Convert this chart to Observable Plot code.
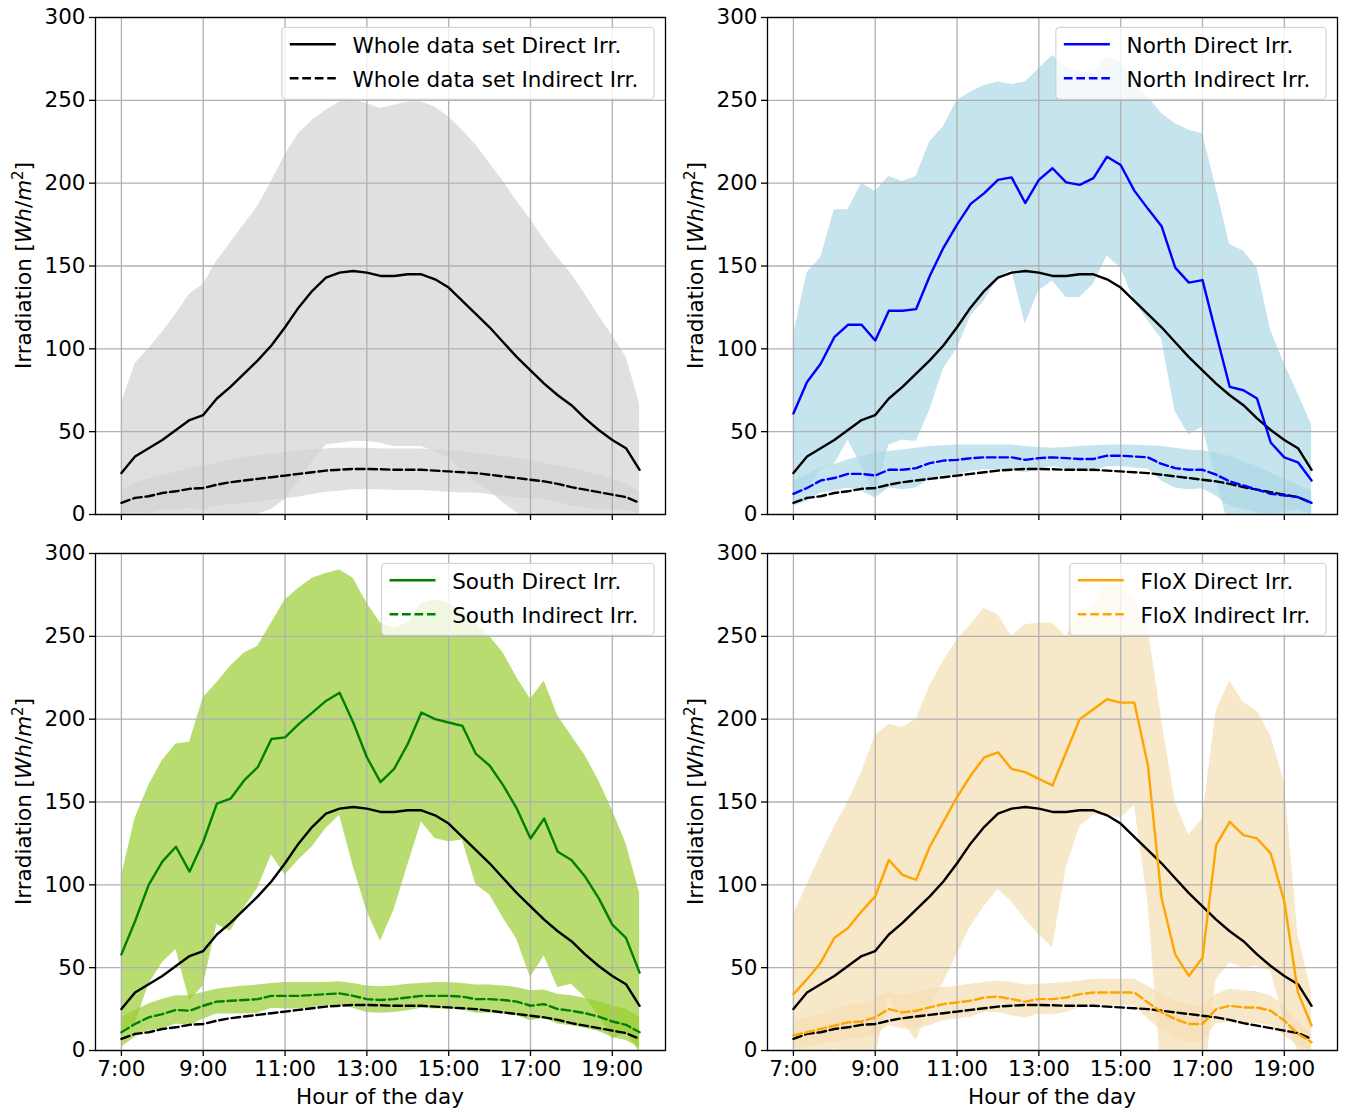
<!DOCTYPE html>
<html><head><meta charset="utf-8">
<script src="https://cdn.jsdelivr.net/npm/d3@7"></script>
<script src="https://cdn.jsdelivr.net/npm/@observablehq/plot@0.6"></script>
<style>
html,body{margin:0;padding:0;background:#fff;}
#chart{position:relative;width:1347px;height:1113px;font-family:"DejaVu Sans",sans-serif;}
#chart svg{position:absolute;overflow:visible;}
</style></head><body><div id="chart"></div>
<script>
const times = ["7:00","7:20","7:40","8:00","8:20","8:40","9:00","9:20","9:40","10:00","10:20","10:40","11:00","11:20","11:40","12:00","12:20","12:40","13:00","13:20","13:40","14:00","14:20","14:40","15:00","15:20","15:40","16:00","16:20","16:40","17:00","17:20","17:40","18:00","18:20","18:40","19:00","19:20","19:40"];
const xTicks = [7, 9, 11, 13, 15, 17, 19];
const yTicks = [0, 50, 100, 150, 200, 250, 300];

// Whole data set
const wholeDirect   = [25,35,40,45,51,57,60,70,77,85,93,102,113,125,135,143,146,147,146,144,144,145,145,142,137,129,121,113,104,95,87,79,72,66,58,51,45,40,27];
const wholeDirectHi = [67,91,100,110,121,133,139,153,164,175,186,201,217,230,238,244,249,250,248,245,247,249,249,246,240,232,223,212,201,189,178,166,155,145,133,120,108,95,67];
const wholeDirectLo = [-17,-21,-20,-20,-19,-19,-19,-13,-10,-5,0,3,9,20,32,42,43,44,44,43,41,41,41,38,34,26,19,14,7,1,-4,-8,-11,-13,-17,-18,-18,-15,-13];
const wholeIndirect   = [7,10,11,13,14,15.5,16,18,19.5,20.5,21.5,22.5,23.5,24.5,25.5,26.5,27,27.5,27.5,27.3,27,27,27,26.5,26,25.5,25,24,23,22,21,20,18.5,16.5,15,13.5,12,10.5,7];
const wholeIndirectHi = [14.5,19,21.5,23.5,25.5,27.5,29.5,31,33,34.5,35.5,36.5,37.5,38.5,39,39.5,40,40,40,39.5,39.5,39.5,39.5,39,38.5,38,37,36,35,34,32.5,31,29.5,28,26,24,21,18.5,13.5];
const wholeIndirectLo = [-0.5,1,0.5,2.5,2.5,3.5,2.5,5,6,6.5,7.5,8.5,9.5,10.5,12,13.5,14,15,15,15,14.5,14.5,14.5,14,13.5,13,13,12,11,10,9.5,9,7.5,5,4,3,3,2.5,0.5];

// North
const northDirect   = [61,80,91,107,114.5,114.5,105,123,123,124,144,161,175,187.5,194,202,203.5,188,202,209,200.5,199,203,216,211,195.5,184.5,174,149,140,141.5,109,77,75,70,43.5,34.5,31.5,20.5];
const northDirectHi = [108,146,155,184,184,200,195,204,201,204,225,234,250,255,259,261,259.5,261,269,277,270,267,267,276,273,262,252,242,236,232,230,197,163,159,149,111,91,73,54];
const northDirectLo = [14,14,27,30,45,29,11,42,45,44,63,88,100,120,129,143,147.5,115,135,141,131,131,139,156,149,129,117,106,62,48,53,21,-9,-9,-9,-24,-22,-10,-13];
const northIndirect   = [12.5,16,20.5,22,24.5,24.5,23.5,27,27,28,31,32.5,33,34,34.5,34.5,34.5,33,34,34.5,34,33.5,33.5,35.5,35.5,35,34.5,30.5,28,27,27,24,20,17.5,15,12.5,11.5,10.5,7];
const northIndirectHi = [20,24,28,30,33,35,37,38,39,40,41,41.5,42,42,42,42,42,41,40.5,40,40.5,41,41.5,42,42,42,41.5,41,40,39,38.5,37,35,32,29,25,21.5,18,14.5];
const northIndirectLo = [5,8,13,14,16,14,10,16,15,16,21,23.5,24,26,27,27,27,25,27.5,29,27.5,26,25.5,29,29,28,27.5,20,16,15,15.5,11,5,3,1,0,1.5,3,-0.5];

// South
const southDirect   = [58,78,100,114,123,108,126,149,152,163,171,188,189,197,204,211,216,198,177,162,170,185,204,200,198,196,179,172,160,146,128,140,120,115,105,92,76,68,47];
const southDirectHi = [105,140,160,175,185,186,213,222,232,240,244,258,272,279,285,288,290,285,270,258,255,258,270,272,270,265,258,250,240,225,212,223,202,190,178,163,145,125,95];
const southDirectLo = [12,16,40,53,61,30,39,76,72,86,98,118,106,115,123,134,142,111,84,66,85,112,138,128,126,127,100,94,80,67,44,57,38,40,32,21,7,11,-1];
const southIndirect   = [11,16,20,22,24.5,24,27,29.5,30,30.5,31,33,33,33,33.5,34,34.5,33,31,30.5,31,32,33,33,33,32.5,31,31,30.5,29.5,27,28,25,24,22.5,20.5,17.5,15.5,11];
const southIndirectHi = [20,24,28,31,33,33,35,37,38,39,39.5,40.5,41,41,41,41,41.5,40.5,39,38.5,39,40,40.5,41,41,40.5,39.5,39.5,39,38,36,36.5,34,33,31.5,29.5,27,25,20];
const southIndirectLo = [2,8,12,13,16,15,19,22,22,22,22.5,25.5,25,25,26,27,27.5,25.5,23,22.5,23,24,25.5,25,25,24.5,22.5,22.5,22,21,18,19.5,16,15,13.5,11.5,8,6,2];

// FloX
const floxDirect   = [34,43,53,68,74,84,93,115,106,103,123,138,153,166,177,180,170,168,164,160,180,200,206,212,210,210,172,92,58,45,56,124,138,130,128,119,90,35,15];
const floxDirectHi = [82,100,118,135,150,168,190,197,195,200,220,235,248,257,267,263,250,257,258,258,250,265,270,282,280,272,255,200,150,130,140,205,223,210,205,190,162,70,35];
const floxDirectLo = [-14,-14,-12,1,-2,0,-4,33,17,6,26,41,58,75,87,97,90,79,70,62,110,135,142,142,140,148,89,-16,-34,-40,-28,43,53,50,51,48,18,0,-5];
const floxIndirect   = [9,11,13,15,17,17.5,20,25,23,24,26,28,29,30,32,32.5,31,29.5,31,31,32,34,35,35,35,35,29,23,19,16,16,25,27,26,26,24,18,10,5];
const floxIndirectHi = [17,20,22,25,27,28,31,35,33,35,37,38,39,40,41,42,41,39.5,40,40.5,41,42,43,43,43,43,39,34,30,27,27,34,37,36,35.5,33,27,17,10];
const floxIndirectLo = [1,2,4,5,7,7,9,15,13,13,15,18,19,20,23,23,21,19.5,22,21.5,23,26,27,27,27,27,19,12,8,5,5,16,17,16,16.5,15,9,3,0];

const legendLabels = {
  whole: ["Whole data set Direct Irr.", "Whole data set Indirect Irr."],
  north: ["North Direct Irr.", "North Indirect Irr."],
  south: ["South Direct Irr.", "South Indirect Irr."],
  flox:  ["FloX Direct Irr.", "FloX Indirect Irr."]
};
const xLabel = "Hour of the day";

const hours = times.map(t => { const [h, m] = t.split(":"); return +h + (+m) / 60; });

const FONT = "'DejaVu Sans', sans-serif";
const FS = 21.5;
const LW = 2.4;
const DASH = "8.7,3.8";

const panels = [
  {key:"whole", x0:0,   y0:0,   width:673, height:540, mL:95, mR:8,  mT:17, mB:26, bottom:false, color:"black",   band:"#d3d3d3", ref:false,
   dir:wholeDirect, dirHi:wholeDirectHi, dirLo:wholeDirectLo, ind:wholeIndirect, indHi:wholeIndirectHi, indLo:wholeIndirectLo},
  {key:"north", x0:672, y0:0,   width:675, height:540, mL:95, mR:10, mT:17, mB:26, bottom:false, color:"#0000ff", band:"#add8e6", ref:true,
   dir:northDirect, dirHi:northDirectHi, dirLo:northDirectLo, ind:northIndirect, indHi:northIndirectHi, indLo:northIndirectLo},
  {key:"south", x0:0,   y0:536, width:673, height:577, mL:95, mR:8,  mT:17, mB:63, bottom:true,  color:"#008000", band:"#9acd32", ref:true,
   dir:southDirect, dirHi:southDirectHi, dirLo:southDirectLo, ind:southIndirect, indHi:southIndirectHi, indLo:southIndirectLo},
  {key:"flox",  x0:672, y0:536, width:675, height:577, mL:95, mR:10, mT:17, mB:63, bottom:true,  color:"#ffa500", band:"#f5deb3", ref:true,
   dir:floxDirect, dirHi:floxDirectHi, dirLo:floxDirectLo, ind:floxIndirect, indHi:floxIndirectHi, indLo:floxIndirectLo}
];

const chart = document.getElementById("chart");

for (const p of panels) {
  const rows = hours.map((h, i) => ({
    h, dir: p.dir[i], dirHi: p.dirHi[i], dirLo: p.dirLo[i],
    ind: p.ind[i], indHi: p.indHi[i], indLo: p.indLo[i],
    wd: wholeDirect[i], wi: wholeIndirect[i]
  }));
  const marks = [
    Plot.areaY(rows, {x: "h", y1: "dirLo", y2: "dirHi", fill: p.band, fillOpacity: 0.7, clip: true}),
    Plot.areaY(rows, {x: "h", y1: "indLo", y2: "indHi", fill: p.band, fillOpacity: 0.7, clip: true}),
    Plot.gridX({ticks: xTicks, stroke: "#b0b0b0", strokeOpacity: 1, strokeWidth: 1.3}),
    Plot.gridY({ticks: yTicks, stroke: "#b0b0b0", strokeOpacity: 1, strokeWidth: 1.3})
  ];
  if (p.ref) {
    marks.push(Plot.lineY(rows, {x: "h", y: "wd", stroke: "black", strokeWidth: LW}));
    marks.push(Plot.lineY(rows, {x: "h", y: "wi", stroke: "black", strokeWidth: LW, strokeDasharray: DASH}));
  }
  marks.push(Plot.lineY(rows, {x: "h", y: "dir", stroke: p.color, strokeWidth: LW}));
  marks.push(Plot.lineY(rows, {x: "h", y: "ind", stroke: p.color, strokeWidth: LW, strokeDasharray: DASH}));
  marks.push(Plot.axisY({ticks: yTicks, tickSize: 6, tickPadding: 4, fontSize: FS, label: null, strokeWidth: 1.3}));
  if (p.bottom) {
    marks.push(Plot.axisX({ticks: xTicks, tickSize: 6, tickPadding: 4, fontSize: FS, label: null, strokeWidth: 1.3, tickFormat: d => `${d}:00`}));
  } else {
    marks.push(Plot.axisX({ticks: xTicks, tickSize: 6, tickPadding: 4, fontSize: FS, label: null, strokeWidth: 1.3, tickFormat: () => ""}));
  }
  marks.push(Plot.frame({stroke: "black", strokeWidth: 1.3}));

  const svgEl = Plot.plot({
    width: p.width, height: p.height,
    marginLeft: p.mL, marginRight: p.mR, marginTop: p.mT, marginBottom: p.mB,
    x: {domain: [6.3667, 20.3]},
    y: {domain: [0, 300]},
    style: {fontFamily: FONT, fontSize: FS + "px", color: "black", background: "transparent", overflow: "visible"},
    marks
  });
  svgEl.style.left = p.x0 + "px";
  svgEl.style.top = p.y0 + "px";
  chart.appendChild(svgEl);

  const svg = d3.select(svgEl);
  const plotRight = p.width - p.mR;
  const plotH = p.height - p.mT - p.mB;

  // Y label
  const yl = svg.append("text")
    .attr("transform", `translate(31,${p.mT + plotH / 2}) rotate(-90)`)
    .attr("text-anchor", "middle")
    .attr("font-family", FONT).attr("font-size", FS).attr("fill", "black");
  yl.append("tspan").text("Irradiation [");
  yl.append("tspan").attr("font-style", "italic").text("Wh");
  yl.append("tspan").text("/");
  yl.append("tspan").attr("font-style", "italic").text("m");
  yl.append("tspan").attr("font-size", 15).attr("dy", -8).text("2");
  yl.append("tspan").attr("dy", 8).text("]");

  // X label
  if (p.bottom) {
    svg.append("text")
      .attr("x", p.mL + (plotRight - p.mL) / 2).attr("y", p.mT + plotH + 54)
      .attr("text-anchor", "middle")
      .attr("font-family", FONT).attr("font-size", FS).attr("fill", "black")
      .text(xLabel);
  }

  // Legend
  const labels = legendLabels[p.key];
  const lg = svg.append("g").attr("text-anchor", "start");
  const top = p.mT + 10.3;
  const rect = lg.append("rect");
  const texts = labels.map((lab, i) => lg.append("text")
    .attr("y", top + 17 + 34 * i + 8.4)
    .attr("text-anchor", "start")
    .attr("font-family", FONT).attr("font-size", FS).attr("fill", "black")
    .text(lab));
  const tw = Math.max(...texts.map(t => t.node().getComputedTextLength()));
  const boxW = 70.7 + tw + 15.7;
  const L = plotRight - 11 - boxW;
  rect.attr("x", L).attr("y", top).attr("width", boxW).attr("height", 72)
    .attr("rx", 4).attr("fill", "white").attr("fill-opacity", 0.8)
    .attr("stroke", "#cccccc").attr("stroke-opacity", 0.8).attr("stroke-width", 1.3);
  texts.forEach(t => t.attr("x", L + 70.7));
  labels.forEach((lab, i) => {
    lg.append("line")
      .attr("x1", L + 8).attr("x2", L + 54)
      .attr("y1", top + 17 + 34 * i).attr("y2", top + 17 + 34 * i)
      .attr("stroke", p.color).attr("stroke-width", LW)
      .attr("stroke-dasharray", i === 1 ? DASH : null);
  });
}
</script></body></html>
